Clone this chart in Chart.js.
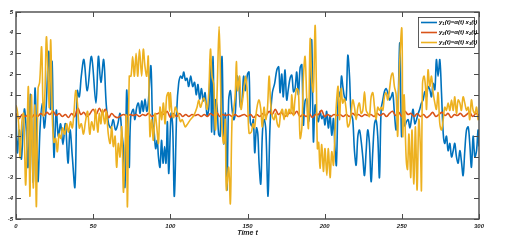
<!DOCTYPE html>
<html>
<head>
<meta charset="utf-8">
<script src="https://cdn.jsdelivr.net/npm/chart.js@4.4.0/dist/chart.umd.min.js"></script>
<style>
  html, body { margin: 0; padding: 0; background: #fff; }
  #wrap { width: 518px; height: 244px; }
</style>
</head>
<body>
<div id="wrap"><canvas id="chart" width="518" height="244"></canvas></div>
<script>
// x축/y축 눈금
var xTicks = [0, 50, 100, 150, 200, 250, 300];
var yTicks = [-5, -4, -3, -2, -1, 0, 1, 2, 3, 4, 5];

// 범례 이름 (아래첨자는 그릴 때 처리)
var seriesNames = ['1', '2', '3'];

// y1(t) : [시간, 값]
var y1Data = [
  [0,0.0],[0.9,-1.8],[2.2,-0.7],[3.5,-2.1],[5.4,0.3],[6.6,-0.6],[7.8,-2.5],[9.3,1.0],[10.2,-0.8],[11.2,-3.2],
  [12.3,1.3],[13.4,-1.0],[14.3,-3.2],[15.6,-0.6],[17.1,0.6],[18.3,-0.6],[19.4,0.2],[21.2,3.1],[22.3,0.3],[23.4,2.6],
  [24.6,-2.0],[26.1,0.25],[27.4,-1.0],[28.9,-0.4],[30.4,-1.4],[32.0,-0.4],[33.7,-2.3],[35.0,-0.7],[36.5,-2.0],[38.2,-3.45],
  [39.7,1.2],[41.0,0.9],[42.3,1.9],[44.0,2.7],[46.2,1.2],[48.9,2.85],[51.8,0.6],[53.4,2.85],[55.0,1.6],[56.8,2.7],
  [58.5,0.5],[60.0,-0.4],[61.5,-0.6],[63.0,-0.2],[64.5,-0.7],[66.0,-0.4],[67.4,0.1],[68.5,-0.8],[69.5,-1.5],[70.6,-3.45],
  [71.7,1.2],[72.7,-0.8],[73.4,-2.5],[74.3,-0.1],[76.0,0.3],[77.0,-0.2],[78.2,0.4],[79.3,0.6],[80.4,0.1],[81.5,0.7],
  [82.5,0.2],[83.6,0.8],[84.7,0.2],[85.7,0.6],[87.4,2.4],[88.5,-0.3],[89.5,-0.8],[90.5,-1.6],[91.5,-1.2],[92.3,-2.0],
  [93.3,-2.5],[94.3,-1.2],[95.3,-2.3],[96.3,-1.5],[97.2,-2.3],[98.1,-0.3],[99.0,-2.8],[100.5,0.1],[101.5,-0.5],[102.6,-3.9],
  [104.2,0.3],[105.4,1.55],[106.6,1.9],[107.7,1.8],[108.7,2.1],[109.8,1.7],[110.8,1.8],[111.9,1.4],[113.2,1.9],[114.5,1.4],
  [115.7,1.6],[116.8,1.0],[117.9,1.5],[119.0,0.8],[120.2,1.3],[121.3,0.7],[122.5,1.1],[123.8,0.0],[124.9,0.3],[126.0,2.7],
  [126.8,-0.8],[127.7,2.85],[128.5,-0.9],[129.3,0.75],[130.3,0.4],[131.3,-0.9],[132.3,-1.0],[133.5,2.85],[134.6,-1.35],[135.7,0.1],
  [136.7,-3.6],[137.8,0.75],[138.9,1.2],[140.0,0.3],[141.1,-0.2],[142.1,0.1],[143.2,1.9],[144.3,1.6],[145.4,0.4],[146.5,0.75],
  [147.5,1.9],[148.6,1.2],[150.0,2.0],[151.0,2.1],[151.8,-0.3],[152.8,-0.5],[153.8,-0.2],[154.7,-1.8],[155.8,-0.6],[156.7,-0.9],
  [157.5,-2.3],[158.6,-3.3],[159.7,-0.8],[160.8,-0.2],[161.9,-0.7],[163.3,-3.9],[164.6,-0.5],[166.1,1.1],[167.6,1.55],[169.0,2.2],
  [170.2,2.35],[171.1,1.1],[172.2,2.0],[173.2,0.9],[174.3,2.2],[175.4,0.75],[176.5,1.3],[177.6,1.8],[178.7,1.95],[179.8,1.15],
  [180.8,1.3],[181.9,2.1],[183.0,1.0],[184.1,2.3],[185.2,2.45],[186.2,-0.45],[187.3,0.7],[188.4,0.8],[189.4,-0.3],[190.5,0.2],
  [191.6,3.65],[192.7,-1.25],[193.8,0.5],[194.9,0.0],[195.9,-0.3],[197.0,0.2],[198.1,-0.15],[199.2,0.0],[200.2,-0.45],[201.3,0.2],
  [202.4,-0.6],[203.5,0.0],[204.6,-0.95],[205.7,-0.15],[206.7,-1.6],[207.6,-2.4],[208.9,1.15],[210.0,0.9],[210.9,1.9],[211.8,1.4],
  [212.8,0.9],[213.9,0.75],[215.0,2.9],[216.1,1.9],[217.1,0.1],[218.2,-0.2],[219.3,-1.7],[220.4,-2.4],[221.5,-1.0],[222.5,-0.7],
  [223.6,-1.2],[224.7,-2.0],[225.8,-2.9],[226.9,-1.7],[227.9,-0.7],[229.0,-1.35],[230.1,-3.2],[231.2,-1.7],[232.3,-0.4],[233.3,-0.2],
  [234.4,-1.0],[235.5,-3.0],[236.6,0.3],[237.7,0.75],[238.7,1.15],[239.8,1.3],[240.9,1.1],[242.0,0.75],[243.1,0.9],[244.1,1.1],
  [245.2,0.1],[246.3,-0.7],[247.4,0.2],[248.7,3.5],[249.8,-1.0],[250.8,0.0],[251.9,-0.5],[253.0,-0.3],[254.1,-0.2],[255.2,-0.6],
  [256.2,-0.2],[257.3,0.3],[258.4,-0.4],[259.5,-0.2],[260.6,0.1],[261.6,0.3],[262.7,0.6],[263.8,0.75],[264.9,1.15],[266.0,0.9],
  [267.0,1.4],[268.1,1.25],[269.2,0.9],[270.3,1.55],[271.4,1.25],[272.4,2.7],[273.5,1.9],[274.6,2.7],[275.7,1.1],[276.8,-0.85],
  [277.8,-1.35],[278.9,-1.0],[280.0,-1.7],[281.1,-1.35],[282.2,-2.0],[283.3,-1.7],[284.3,-1.35],[285.4,-2.0],[286.5,-2.3],[287.6,-1.7],
  [288.6,-2.2],[289.7,-2.9],[290.8,-1.7],[291.9,-0.7],[293.0,-0.55],[294.0,-1.35],[295.1,-2.5],[296.2,-1.0],[297.3,-2.0],[298.4,-1.7],
  [299.4,-0.7],[300,-1.5]
];

// y3(t) : [시간, 값]
var y3Data = [
  [0,0.5],[0.9,0.2],[1.8,-0.5],[2.7,-2.05],[3.8,-0.3],[4.9,0.1],[6.3,-3.35],[8.0,1.4],[9.0,-3.9],[10.0,1.0],
  [11.2,-3.5],[12.2,0.5],[13.2,-4.4],[14.3,1.3],[15.3,1.6],[16.6,3.3],[17.7,0.0],[18.7,1.0],[19.7,3.8],[20.9,1.6],
  [21.6,0.4],[22.5,3.65],[23.5,0.0],[24.6,-1.3],[25.7,-1.1],[26.8,-1.75],[27.9,-0.9],[29.0,-1.1],[30.2,-0.6],[31.5,-0.9],
  [32.8,-0.4],[34.0,-0.8],[35.3,-0.3],[36.5,-0.6],[37.6,0.2],[38.7,1.2],[39.8,0.6],[41.0,-0.6],[42.3,-0.4],[43.7,-0.9],
  [45.0,-0.3],[46.4,0.2],[47.8,-0.9],[49.0,-0.3],[50.5,-0.7],[51.5,0.3],[53.0,-0.8],[54.0,0.1],[55.0,-0.4],[56.0,0.3],
  [57.5,-0.4],[58.5,0.2],[59.8,-0.9],[61.0,-1.35],[62.0,-0.55],[63.1,-1.5],[64.2,-1.0],[65.2,-2.5],[66.3,-1.35],[67.4,-2.0],
  [68.5,-0.55],[69.6,-3.7],[70.6,-1.65],[71.5,0.0],[72.2,-4.4],[73.4,1.9],[74.5,1.9],[75.6,2.85],[76.7,1.9],[77.8,3.0],
  [78.9,1.9],[80.0,3.2],[81.4,1.9],[82.5,3.2],[83.6,2.35],[84.7,1.9],[85.7,2.85],[86.8,-1.0],[87.9,-0.2],[89.0,-1.2],
  [90.1,0.1],[91.2,-0.55],[92.3,-1.35],[93.3,0.4],[94.4,-0.2],[95.5,0.6],[96.6,-0.4],[97.6,0.9],[98.7,1.1],[99.5,0.2],
  [100.0,1.1],[101.1,0.1],[102.2,-0.1],[103.2,0.4],[104.3,0.2],[105.4,0.0],[106.6,-0.3],[107.7,-0.2],[108.8,-0.4],[109.7,-0.55],
  [110.8,-0.45],[113.0,-0.2],[115.2,0.0],[117.3,0.4],[118.4,0.75],[119.5,0.4],[120.5,0.6],[121.6,0.85],[122.7,0.65],[123.8,0.3],
  [124.9,1.1],[126.0,3.2],[127.0,1.9],[128.1,1.5],[129.2,-0.7],[130.3,1.1],[131.6,4.3],[132.7,1.1],[133.5,-0.7],[134.6,-1.35],
  [135.6,-0.2],[136.3,-3.6],[137.8,-2.5],[138.9,-4.25],[140.0,-0.2],[141.1,0.3],[142.1,1.1],[142.8,2.6],[143.6,1.2],[144.9,1.9],
  [145.8,0.3],[147.1,0.9],[148.8,1.9],[150.0,0.9],[151.0,-0.85],[152.5,-0.8],[153.5,-0.4],[154.5,-0.6],[155.3,-0.1],[156.4,0.5],
  [157.5,0.75],[158.6,0.3],[159.6,-0.55],[160.7,0.4],[161.8,-0.2],[162.9,0.3],[164.0,1.9],[165.0,0.6],[166.1,-0.05],[167.2,-0.2],
  [168.2,0.1],[169.3,-0.4],[170.4,-0.55],[171.5,0.1],[172.6,0.3],[173.7,-0.2],[174.8,0.3],[175.8,-0.05],[176.9,0.3],[178.0,0.1],
  [178.7,1.0],[179.8,0.0],[180.8,0.8],[181.9,1.3],[183.0,1.15],[184.1,-1.1],[185.2,-0.6],[186.2,1.8],[187.3,2.85],[188.4,0.8],
  [189.5,-0.6],[190.6,3.7],[191.7,1.6],[192.7,1.15],[193.8,4.35],[194.6,1.6],[195.3,-1.6],[196.1,-1.3],[197.0,-2.55],[198.1,-1.4],
  [199.2,-2.7],[200.2,-1.6],[201.4,-2.9],[202.4,-1.6],[203.5,-3.0],[204.6,-1.75],[205.7,-2.4],[206.7,-0.8],[207.8,0.8],[208.7,1.4],
  [209.6,-0.2],[210.7,1.3],[211.7,0.6],[212.8,0.8],[213.9,0.3],[215.0,-0.55],[216.1,-0.4],[217.1,0.1],[218.2,0.75],[219.3,0.4],
  [220.4,-0.2],[221.5,0.4],[222.5,0.6],[223.6,0.1],[224.7,0.25],[225.8,1.15],[226.9,0.25],[227.9,0.1],[229.0,-0.05],[230.1,0.9],
  [231.2,1.1],[232.3,0.4],[233.3,-0.2],[234.4,0.4],[235.5,0.25],[236.6,0.4],[237.7,0.25],[238.7,0.9],[239.8,1.1],[240.9,0.75],
  [242.0,1.25],[243.1,1.9],[244.1,2.05],[245.2,1.4],[246.3,1.0],[247.3,-1.0],[248.2,1.8],[250.0,4.2],[250.6,-1.0],[251.5,1.0],
  [252.4,-1.2],[253.0,-2.3],[253.7,-2.6],[254.6,-0.9],[255.8,-3.0],[256.6,-0.7],[257.8,-3.3],[258.8,-0.55],[259.9,-3.6],[261.0,-0.2],
  [262.1,-1.7],[262.7,-3.6],[263.4,1.55],[264.4,1.9],[265.3,1.4],[266.0,0.3],[267.0,2.2],[268.1,1.4],[269.2,1.9],[270.3,1.1],
  [271.4,0.6],[272.4,0.3],[273.5,1.1],[274.6,-0.4],[275.7,-0.7],[276.8,-0.2],[277.8,0.4],[278.9,0.25],[280.0,0.6],[281.1,0.25],
  [282.2,0.75],[283.3,0.25],[284.3,0.9],[285.4,0.1],[286.5,0.75],[287.6,0.6],[288.6,0.25],[289.7,0.9],[290.8,0.6],[291.9,0.25],
  [293.0,0.4],[294.0,-0.2],[295.1,0.75],[296.2,0.25],[297.3,0.1],[298.4,0.4],[299.4,-0.2],[300,0.0]
];

// y2(t) : 2초 간격 값 (t = 0, 2, 4, ... 300)
var y2Values = [
  0.1, -0.15, 0.05, -0.05, 0.05, -0.1, 0.05, -0.05, 0.1, 0.0, 0.15,
  0.05, 0.2, 0.0, 0.1, -0.05, 0.05, -0.1, 0.1, -0.05, 0.35,
  0.05, 0.15, -0.05, 0.1, 0.3, 0.05, 0.35, 0.1, 0.3, -0.1,
  0.1, -0.05, -0.1, 0.0, 0.05, -0.05, 0.05, 0.0, 0.05, -0.05,
  0.05, 0.0, 0.1, -0.05, 0.05, 0.1, 0.15, 0.05, 0.2, -0.1,
  0.1, -0.05, 0.1, -0.05, 0.05, -0.05, 0.05, 0.0, 0.05, -0.05,
  0.05, -0.05, 0.1, 0.0, 0.15, -0.05, 0.05, 0.0, 0.05, -0.05,
  0.05, -0.05, 0.0, 0.05, -0.05, 0.05, -0.1, 0.05, -0.05, 0.1,
  0.0, 0.2, 0.05, 0.3, 0.05, 0.15, -0.05, 0.05, 0.15, 0.05,
  0.2, -0.05, 0.05, -0.05, 0.1, -0.1, 0.05, 0.05, 0.25, -0.05,
  0.05, -0.05, 0.05, 0.0, 0.05, -0.05, 0.05, -0.05, 0.1, 0.0,
  0.05, -0.05, 0.05, 0.0, 0.05, -0.05, 0.1, 0.0, 0.1, -0.05,
  0.1, 0.2, 0.0, 0.15, -0.05, 0.2, 0.05, 0.1, -0.05, 0.1,
  -0.05, 0.05, -0.1, 0.0, 0.15, -0.05, 0.05, 0.15, 0.0, 0.1,
  -0.1, 0.05, 0.0, 0.1, -0.05, 0.05, 0.15, -0.05, 0.1, 0.0
];
var y2Step = 2;

var colors = ['#0072BD', '#D95319', '#EDB120'];

function toPoints(pairs) {
  return pairs.map(function (p) { return { x: p[0], y: p[1] }; });
}

var y2Data = y2Values.map(function (v, i) { return { x: i * y2Step, y: v }; });

var tickFont = { family: "'Liberation Sans', Arial, sans-serif", size: 6, style: 'italic', weight: 'bold' };

// 테두리 + 안쪽 눈금 + 범례
var framePlugin = {
  id: 'frame',
  afterDatasetsDraw: function (chart) {
    var ctx = chart.ctx;
    var a = chart.chartArea;
    var xs = chart.scales.x, ys = chart.scales.y;
    ctx.save();
    ctx.strokeStyle = '#4a4a4a';
    ctx.lineWidth = 1.4;
    ctx.strokeRect(a.left, a.top, a.right - a.left, a.bottom - a.top);
    ctx.lineWidth = 1;
    xTicks.forEach(function (t) {
      var px = Math.round(xs.getPixelForValue(t)) + 0.5;
      ctx.beginPath();
      ctx.moveTo(px, a.bottom); ctx.lineTo(px, a.bottom - 5);
      ctx.moveTo(px, a.top); ctx.lineTo(px, a.top + 5);
      ctx.stroke();
    });
    yTicks.forEach(function (t) {
      var py = Math.round(ys.getPixelForValue(t)) + 0.5;
      ctx.beginPath();
      ctx.moveTo(a.left, py); ctx.lineTo(a.left + 5, py);
      ctx.moveTo(a.right, py); ctx.lineTo(a.right - 5, py);
      ctx.stroke();
    });

    // 범례
    var lx = 418, ly = 17, lw = 56, lh = 30;
    ctx.fillStyle = '#fff';
    ctx.fillRect(lx, ly, lw, lh);
    ctx.strokeStyle = '#333';
    ctx.lineWidth = 0.8;
    ctx.strokeRect(lx + 0.5, ly + 0.5, lw, lh);
    seriesNames.forEach(function (n, i) {
      var yy = ly + 5.5 + i * 10;
      ctx.strokeStyle = colors[i];
      ctx.lineWidth = 1.6;
      ctx.beginPath();
      ctx.moveTo(lx + 3, yy); ctx.lineTo(lx + 19, yy);
      ctx.stroke();
      drawLabel(ctx, lx + 21, yy, n);
    });
    ctx.restore();
  }
};

function drawLabel(ctx, x, y, n) {
  var big = "italic bold 6px 'Liberation Sans', Arial, sans-serif";
  var small = "italic bold 4.2px 'Liberation Sans', Arial, sans-serif";
  var parts = [['y', 0], [n, 1], ['(t)=\u03B1(t) x', 0], [n, 1], ['(t)', 0]];
  ctx.fillStyle = '#000';
  ctx.textBaseline = 'middle';
  ctx.textAlign = 'left';
  parts.forEach(function (p) {
    ctx.font = p[1] ? small : big;
    ctx.fillText(p[0], x, y + (p[1] ? 1.5 : 0));
    x += ctx.measureText(p[0]).width;
  });
}

new Chart(document.getElementById('chart'), {
  type: 'line',
  data: {
    datasets: [
      { label: 'y1', data: toPoints(y1Data), borderColor: colors[0], order: 3 },
      { label: 'y2', data: y2Data, borderColor: colors[1], order: 2 },
      { label: 'y3', data: toPoints(y3Data), borderColor: colors[2], order: 1 }
    ]
  },
  options: {
    responsive: false,
    animation: false,
    devicePixelRatio: 1,
    layout: { padding: { top: 12, right: 39, left: 0, bottom: 0 } },
    elements: {
      point: { radius: 0 },
      line: { borderWidth: 1.6, tension: 0.35 }
    },
    plugins: {
      legend: { display: false },
      tooltip: { enabled: false }
    },
    scales: {
      x: {
        type: 'linear',
        min: 0, max: 300,
        afterBuildTicks: function (s) { s.ticks = xTicks.map(function (v) { return { value: v }; }); },
        afterFit: function (s) { s.height = 25; },
        grid: { display: false, drawTicks: false },
        border: { display: false },
        ticks: { font: tickFont, color: '#222', padding: 4, maxRotation: 0 },
        title: {
          display: true, text: 'Time t', color: '#222',
          font: { family: "'Liberation Sans', Arial, sans-serif", size: 7, style: 'italic', weight: 'bold' },
          padding: { top: 0, bottom: 7 }
        }
      },
      y: {
        min: -5, max: 5,
        afterBuildTicks: function (s) { s.ticks = yTicks.map(function (v) { return { value: v }; }); },
        afterFit: function (s) { s.width = 16; },
        grid: { display: false, drawTicks: false },
        border: { display: false },
        ticks: { font: tickFont, color: '#222', padding: 3 }
      }
    }
  },
  plugins: [framePlugin]
});
</script>
</body>
</html>
